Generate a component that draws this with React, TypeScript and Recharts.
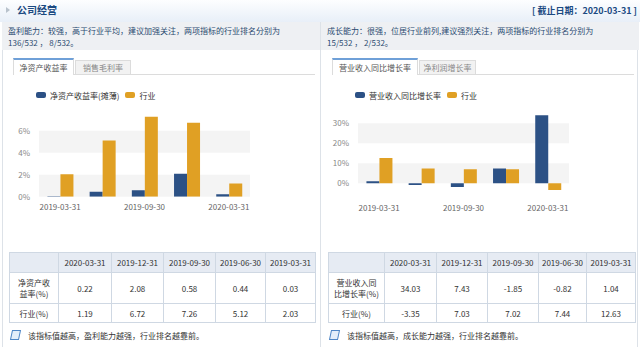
import React from "react";
import { BarChart, Bar, XAxis, YAxis, ReferenceArea } from "recharts";

// table order (newest first), chart uses oldest first
const periods = ["2020-03-31", "2019-12-31", "2019-09-30", "2019-06-30", "2019-03-31"];
const roe = [0.22, 2.08, 0.58, 0.44, 0.03];
const roeIndustry = [1.19, 6.72, 7.26, 5.12, 2.03];
const revenueGrowth = [34.03, 7.43, -1.85, -0.82, 1.04];
const revenueIndustry = [-3.35, 7.03, 7.02, 7.44, 12.63];

const roeTicks = [0, 2, 4, 6];
const growthTicks = [0, 10, 20, 30];

const BLUE = "#2c5185";
const ORANGE = "#e0a024";
const FONT = '"Noto Sans CJK SC", "Noto Sans", sans-serif';

type Row = { period: string; value: number; industry: number };

function buildRows(values: number[], industry: number[]): Row[] {
  return periods
    .map((p, i) => ({ period: p, value: values[i], industry: industry[i] }))
    .reverse();
}

function bandsFrom(ticks: number[]) {
  const out: [number, number][] = [];
  for (let i = 0; i + 1 < ticks.length; i += 2) out.push([ticks[i], ticks[i + 1]]);
  return out;
}

function fmt(v: number) {
  return v.toFixed(2);
}

function Chart({
  rows,
  domain,
  ticks,
  marginTop,
  marginBottom,
}: {
  rows: Row[];
  domain: [number, number];
  ticks: number[];
  marginTop: number;
  marginBottom: number;
}) {
  return (
    <BarChart
      width={320}
      height={140}
      data={rows}
      margin={{ top: marginTop, right: 72, bottom: marginBottom, left: 0 }}
      barCategoryGap="20%"
      barGap={0}
    >
      {bandsFrom(ticks).map((b) => (
        <ReferenceArea
          key={b[0]}
          y1={b[0]}
          y2={b[1]}
          fill="#f4f4f4"
          fillOpacity={1}
          stroke="none"
        />
      ))}
      <XAxis
        dataKey="period"
        interval={1}
        axisLine={false}
        tickLine={false}
        height={20}
        tick={{ fontSize: 8, fill: "#666", fontFamily: FONT }}
      />
      <YAxis
        domain={domain}
        ticks={ticks}
        allowDataOverflow
        width={37}
        axisLine={false}
        tickLine={false}
        tickMargin={3}
        tickFormatter={(v) => `${v}%`}
        tick={{ fontSize: 8, fill: "#888", fontFamily: FONT }}
      />
      <Bar dataKey="value" fill={BLUE} isAnimationActive={false} />
      <Bar dataKey="industry" fill={ORANGE} isAnimationActive={false} />
    </BarChart>
  );
}

function LegendItem({ color, label }: { color: string; label: string }) {
  return (
    <span style={{ display: "inline-flex", alignItems: "center", marginRight: 6 }}>
      <span
        style={{
          display: "inline-block",
          width: 10,
          height: 6,
          borderRadius: 2,
          background: color,
          marginRight: 4,
        }}
      />
      {label}
    </span>
  );
}

const cell: React.CSSProperties = {
  border: "1px solid #cfd8e3",
  textAlign: "center",
  padding: 0,
  fontSize: 8,
  color: "#333",
};

function DataTable({
  label,
  values,
  industry,
  widths,
}: {
  label: React.ReactNode;
  values: number[];
  industry: number[];
  widths: number[];
}) {
  return (
    <table
      style={{
        borderCollapse: "collapse",
        tableLayout: "fixed",
        width: widths.reduce((a, b) => a + b, 0),
        fontFamily: FONT,
      }}
    >
      <colgroup>
        {widths.map((w, i) => (
          <col key={i} style={{ width: w }} />
        ))}
      </colgroup>
      <tbody>
        <tr style={{ height: 20, background: "#e6ebf3" }}>
          <td style={cell} />
          {periods.map((p) => (
            <td key={p} style={cell}>
              {p}
            </td>
          ))}
        </tr>
        <tr style={{ height: 31 }}>
          <td style={{ ...cell, lineHeight: "11.5px" }}>{label}</td>
          {values.map((v, i) => (
            <td key={i} style={cell}>
              {fmt(v)}
            </td>
          ))}
        </tr>
        <tr style={{ height: 19 }}>
          <td style={cell}>行业(%)</td>
          {industry.map((v, i) => (
            <td key={i} style={cell}>
              {fmt(v)}
            </td>
          ))}
        </tr>
      </tbody>
    </table>
  );
}

function Tabs({ tabs, widths }: { tabs: string[]; widths: number[] }) {
  return (
    <div style={{ position: "absolute", left: 11, top: 58, width: 302, height: 17 }}>
      <div
        style={{
          position: "absolute",
          left: 0,
          right: 0,
          top: 16,
          height: 1,
          background: "#dcdcdc",
        }}
      />
      <div
        style={{
          position: "absolute",
          left: 0,
          top: 0,
          width: widths[0],
          height: 17,
          boxSizing: "border-box",
          background: "#fff",
          borderTop: "2px solid #6fa0d8",
          borderLeft: "1px solid #dcdcdc",
          borderRight: "1px solid #dcdcdc",
          fontSize: 8,
          lineHeight: "15px",
          textAlign: "center",
          color: "#555",
        }}
      >
        {tabs[0]}
      </div>
      <div
        style={{
          position: "absolute",
          left: widths[0] + 1,
          top: 2,
          width: widths[1],
          height: 14,
          boxSizing: "border-box",
          background: "#f2f2f2",
          border: "1px solid #dcdcdc",
          borderBottom: "none",
          fontSize: 8,
          lineHeight: "13px",
          textAlign: "center",
          color: "#888",
        }}
      >
        {tabs[1]}
      </div>
    </div>
  );
}

function Panel({
  left,
  summary,
  ranks,
  tabs,
  tabWidths,
  legend,
  chart,
  table,
  note,
}: {
  left: number;
  summary: string;
  ranks: string;
  tabs: string[];
  tabWidths: number[];
  legend: string;
  chart: React.ReactNode;
  table: React.ReactNode;
  note: string;
}) {
  return (
    <div
      style={{
        position: "absolute",
        left,
        top: 22,
        width: 318,
        height: 325,
        fontFamily: FONT,
      }}
    >
      <div
        style={{
          position: "absolute",
          left: 0,
          top: 0,
          width: 318,
          height: 28,
          background: "#eef0f3",
          color: "#2a4a70",
          fontSize: 8,
          lineHeight: "12px",
          paddingLeft: 6,
          paddingTop: 3,
          boxSizing: "border-box",
        }}
      >
        <div>{summary}</div>
        <div>{ranks}</div>
      </div>
      <div style={{ position: "absolute", left: -left, top: -22 }}>
        <div style={{ position: "absolute", left, top: 0 }}>
          <Tabs tabs={tabs} widths={tabWidths} />
          <div
            style={{
              position: "absolute",
              left: 34,
              top: 90,
              fontSize: 8,
              color: "#333",
              whiteSpace: "nowrap",
              display: "flex",
              alignItems: "center",
              height: 10,
            }}
          >
            <LegendItem color={BLUE} label={legend} />
            <LegendItem color={ORANGE} label="行业" />
          </div>
          <div style={{ position: "absolute", left: 0, top: 80 }}>{chart}</div>
          <div style={{ position: "absolute", left: 7, top: 252 }}>{table}</div>
          <div
            style={{
              position: "absolute",
              left: 9,
              top: 329,
              fontSize: 8,
              color: "#333",
              whiteSpace: "nowrap",
              display: "flex",
              alignItems: "center",
              height: 12,
            }}
          >
            <span
              style={{
                display: "inline-block",
                width: 7,
                height: 8,
                border: "1px solid #4f86c6",
                background: "#e3eefa",
                transform: "skewX(-12deg)",
                marginRight: 8,
              }}
            />
            {note}
          </div>
        </div>
      </div>
    </div>
  );
}

export default function App() {
  const roeRows = buildRows(roe, roeIndustry);
  const growthRows = buildRows(revenueGrowth, revenueIndustry);

  return (
    <div
      style={{
        position: "absolute",
        left: 0,
        top: 0,
        width: 640,
        height: 347,
        background: "#fff",
        overflow: "hidden",
        fontFamily: FONT,
      }}
    >
      <div
        style={{
          position: "absolute",
          left: 0,
          top: 0,
          width: 640,
          height: 22,
          background: "linear-gradient(to bottom, #fdfeff, #e8eff8)",
        }}
      >
        <span
          style={{
            position: "absolute",
            left: 6,
            top: 7,
            width: 0,
            height: 0,
            borderTop: "3px solid transparent",
            borderBottom: "3px solid transparent",
            borderLeft: "4px solid #b8c2cc",
          }}
        />
        <span
          style={{
            position: "absolute",
            left: 17,
            top: 3,
            fontSize: 10,
            lineHeight: "14px",
            fontWeight: 700,
            color: "#1b4a82",
          }}
        >
          公司经营
        </span>
        <span
          style={{
            position: "absolute",
            right: 3,
            top: 4,
            fontSize: 9,
            lineHeight: "13px",
            fontWeight: 700,
            color: "#1b4a82",
            whiteSpace: "nowrap",
          }}
        >
          [ 截止日期：2020-03-31 ]
        </span>
      </div>
      <div style={{ position: "absolute", left: 2, top: 22, width: 1, height: 325, background: "#dde2e8" }} />
      <div style={{ position: "absolute", left: 320, top: 22, width: 1, height: 325, background: "#dde2e8" }} />
      <div style={{ position: "absolute", left: 637, top: 22, width: 1, height: 325, background: "#dde2e8" }} />
      <Panel
        left={2}
        summary="盈利能力：较强，高于行业平均，建议加强关注，两项指标的行业排名分别为"
        ranks="136/532 ， 8/532。"
        tabs={["净资产收益率", "销售毛利率"]}
        tabWidths={[61, 56]}
        legend="净资产收益率(摊薄)"
        chart={<Chart rows={roeRows} domain={[0, 8]} ticks={roeTicks} marginTop={28.7} marginBottom={3.3} />}
        table={
          <DataTable
            label={
              <>
                净资产收
                <br />
                益率(%)
              </>
            }
            values={roe}
            industry={roeIndustry}
            widths={[49, 53, 52, 52, 50, 50]}
          />
        }
        note="该指标值越高，盈利能力越强，行业排名越靠前。"
      />
      <Panel
        left={321}
        summary="成长能力：很强，位居行业前列,建议强烈关注，两项指标的行业排名分别为"
        ranks="15/532 ， 2/532。"
        tabs={["营业收入同比增长率", "净利润增长率"]}
        tabWidths={[86, 57]}
        legend="营业收入同比增长率"
        chart={<Chart rows={growthRows} domain={[-7, 40]} ticks={growthTicks} marginTop={23.3} marginBottom={2.7} />}
        table={
          <DataTable
            label={
              <>
                营业收入同
                <br />
                比增长率(%)
              </>
            }
            values={revenueGrowth}
            industry={revenueIndustry}
            widths={[56, 52, 51, 51, 48, 49]}
          />
        }
        note="该指标值越高，成长能力越强，行业排名越靠前。"
      />
    </div>
  );
}
